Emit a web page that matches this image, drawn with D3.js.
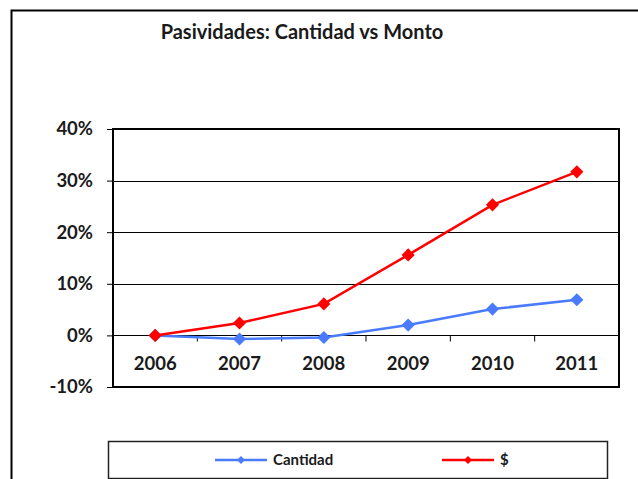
<!DOCTYPE html>
<html>
<head>
<meta charset="utf-8">
<script src="https://cdn.jsdelivr.net/npm/d3@7"></script>
<style>
  body { margin: 0; background: #fff; }
  text { font-family: Lato, "Open Sans", sans-serif; font-weight: bold; fill: #1a1a1a; }
</style>
</head>
<body>
<div id="chart"></div>
<script>
const years = ["2006", "2007", "2008", "2009", "2010", "2011"];
const cantidad = [0, -0.7, -0.4, 2.0, 5.1, 6.9];
const monto = [0, 2.4, 6.1, 15.6, 25.3, 31.7];
const yTicks = [-10, 0, 10, 20, 30, 40];
const seriesNames = ["Cantidad", "$"];
const seriesColors = ["#4a7bff", "#ff0000"];

const width = 638, height = 479;
const plot = { left: 113, top: 129, right: 619, bottom: 387 };

const svg = d3.select("#chart").append("svg")
  .attr("width", width).attr("height", height);

// outer frame (right side runs off the picture)
svg.append("path")
  .attr("d", `M11.5,${height} V10.5 H${width}`)
  .attr("fill", "none").attr("stroke", "#000").attr("stroke-width", 2);

svg.append("text")
  .attr("x", 302).attr("y", 39)
  .attr("text-anchor", "middle")
  .style("font-size", "20px")
  .text("Pasividades: Cantidad vs Monto");

const x = d3.scaleBand().domain(years).range([plot.left, plot.right]);
const y = d3.scaleLinear().domain([-10, 40]).range([plot.bottom, plot.top]);

// gridlines
svg.append("g")
  .selectAll("line").data(yTicks.filter(d => d > -10 && d < 40)).join("line")
    .attr("x1", plot.left).attr("x2", plot.right)
    .attr("y1", d => Math.round(y(d)) + 0.5).attr("y2", d => Math.round(y(d)) + 0.5)
    .attr("stroke", "#000").attr("stroke-width", 1);

// y axis
const yAxis = svg.append("g")
  .attr("transform", `translate(${plot.left},0)`)
  .call(d3.axisLeft(y).tickValues(yTicks).tickFormat(d => d + "%").tickSize(6).tickPadding(14));
yAxis.select(".domain").remove();
yAxis.selectAll("line").attr("stroke", "#000");
yAxis.selectAll("text").style("font-size", "18.5px").attr("fill", "#1a1a1a");

// x axis on the 0% line, ticks at band edges
const xAxisG = svg.append("g")
  .attr("transform", `translate(0,${Math.round(y(0)) + 0.5})`);
xAxisG.selectAll("line").data(years.slice(1)).join("line")
  .attr("x1", d => x(d)).attr("x2", d => x(d))
  .attr("y1", 0).attr("y2", 6)
  .attr("stroke", "#000");
xAxisG.selectAll("text").data(years).join("text")
  .attr("x", d => x(d) + x.bandwidth() / 2)
  .attr("y", 34)
  .attr("text-anchor", "middle")
  .style("font-size", "18.5px")
  .text(d => d);

// plot frame
svg.append("rect")
  .attr("x", plot.left).attr("y", plot.top)
  .attr("width", plot.right - plot.left).attr("height", plot.bottom - plot.top)
  .attr("fill", "none").attr("stroke", "#000").attr("stroke-width", 2);

const line = d3.line()
  .x((d, i) => x(years[i]) + x.bandwidth() / 2)
  .y(d => y(d));
const diamond = d3.symbol().type(d3.symbolDiamond2).size(110);

[cantidad, monto].forEach((vals, k) => {
  const g = svg.append("g");
  g.append("path").datum(vals)
    .attr("d", line)
    .attr("fill", "none")
    .attr("stroke", seriesColors[k])
    .attr("stroke-width", 2.5);
  g.selectAll("path.mark").data(vals).join("path")
    .attr("class", "mark")
    .attr("d", diamond)
    .attr("transform", (d, i) => `translate(${x(years[i]) + x.bandwidth() / 2},${y(d)})`)
    .attr("fill", seriesColors[k]);
});

// legend
const legend = svg.append("g");
legend.append("rect")
  .attr("x", 108.5).attr("y", 441.5).attr("width", 499).attr("height", 37)
  .attr("fill", "#fff").attr("stroke", "#222").attr("stroke-width", 1.5);
const legendX = [215, 442];
seriesNames.forEach((name, k) => {
  const g = legend.append("g").attr("transform", `translate(${legendX[k]},460)`);
  g.append("line").attr("x1", 0).attr("x2", 52).attr("y1", 0).attr("y2", 0)
    .attr("stroke", seriesColors[k]).attr("stroke-width", 2.5);
  g.append("path").attr("d", d3.symbol().type(d3.symbolDiamond2).size(40))
    .attr("transform", "translate(26,0)").attr("fill", seriesColors[k]);
  g.append("text").attr("x", 58).attr("y", 5).style("font-size", "15px").text(name);
});
</script>
</body>
</html>
